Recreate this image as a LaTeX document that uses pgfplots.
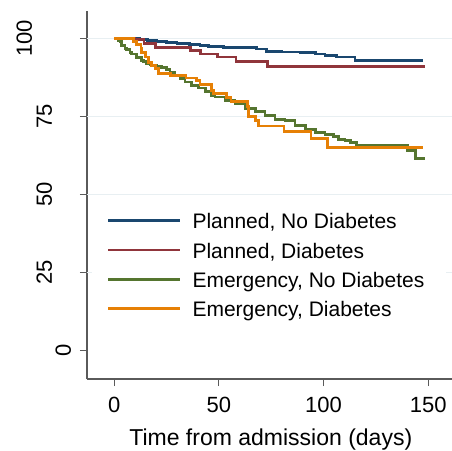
\documentclass[border=0pt]{standalone}
\usepackage{pgfplots}
\pgfplotsset{compat=1.18}
\usepackage{fontspec}
\setmainfont{Liberation Sans}
\definecolor{sNavy}{RGB}{26,71,111}
\definecolor{sMaroon}{RGB}{144,53,59}
\definecolor{sGreen}{RGB}{85,117,47}
\definecolor{sOrange}{RGB}{230,128,5}
\definecolor{axgray}{RGB}{90,90,90}
\definecolor{gridc}{RGB}{232,239,242}
\begin{document}
\begin{tikzpicture}
\begin{axis}[
  scale only axis, width=365pt, height=368pt,
  xmin=-13.05, xmax=161.4, ymin=-9.06, ymax=108.74,
  axis x line*=bottom, axis y line*=left,
  axis line style={axgray, line width=1.2pt},
  tick align=outside, major tick length=7pt,
  tick style={axgray, line width=1pt},
  xtick={0,50,100,150}, xticklabels={0,50,100,150},
  ytick={0,25,50,75,100},
  yticklabels={\raisebox{9pt}{0},\raisebox{28pt}{25},\raisebox{28pt}{50},\raisebox{28pt}{75},\raisebox{48pt}{100}},
  xticklabel style={anchor=base, inner sep=0pt, yshift=-26pt, font=\fontsize{22}{26}\selectfont},
  yticklabel style={rotate=90, anchor=south, inner sep=0pt, font=\fontsize{22}{26}\selectfont},
  extra y ticks={25,50,75,100}, extra y tick labels={,,,},
  extra y tick style={grid=major, major tick length=0pt},
  grid style={gridc, line width=1pt},
  xlabel={Time from admission (days)},
  xlabel style={font=\fontsize{23}{27}\selectfont, at={(axis description cs:0.5,0)}, anchor=base, yshift=-66pt, xshift=1.3pt, inner sep=0pt},
  legend style={at={(0.0137,0.4714)}, anchor=north west, draw=none, fill=white,
    inner xsep=14.5pt, inner ysep=3pt, font=\fontsize{21}{25}\selectfont, row sep=0pt,
    nodes={inner xsep=7pt, inner ysep=4.6pt, text height=15.5pt, text depth=4.5pt}},
  legend cell align=left,
  legend image code/.code={\draw[#1] (0pt,2.5pt) -- (72pt,2.5pt); \path (76pt,0pt);},
]
\addplot[sNavy, line width=2.8pt, const plot] coordinates {
(0,100) (9.1,100) (12,99.7) (16,99.3) (20,99.0) (25,98.6) (30,98.3) (36,98.0) (41,97.8) (45,97.5) (48,97.3) (52,97.0)
(68,96.6) (72.8,95.8) (80,95.6) (88.8,95.4) (96,95.0) (100.7,94.6) (104,94.4) (106.3,94.0) (115,93.0) (147.7,93.0)};
\addlegendentry{Planned, No Diabetes}
\addplot[sMaroon, line width=2.8pt, const plot] coordinates {
(0,100) (9.9,99.5) (14.2,98.4) (19.5,97.1) (36.3,96.1) (41.3,95.0) (49.3,94.0) (58.2,92.7) (73.3,91.1) (148.6,91.1)};
\addlegendentry{Planned, Diabetes}
\addplot[sGreen, line width=2.8pt, const plot] coordinates {
(0,100) (1.9,99.4) (2.8,99.0) (3.5,97.8) (5.1,96.8) (5.9,96.5) (7.5,95.4) (8.3,95.0) (10.7,93.8) (13.1,93.0) (13.9,92.5) (15.5,92.0)
(17.1,91.5) (17.9,91.3) (20.3,91.0) (22.7,90.7) (25,90.1) (26.6,89.0) (29,88.2) (31.4,87.1) (33.8,86.0) (37,85.0)
(40.2,84.1) (43.4,83.0) (46.6,81.8) (48.1,81.2) (53,80.2) (57.7,79.2) (62.5,77.6) (67.3,76.5) (72,75.4) (76.8,74.1)
(81.6,73.6) (86.4,72.2) (91.2,70.9) (96,69.8) (100.7,69.2) (104.7,68.5) (107.1,67.7) (110.3,67.2) (112.7,66.6)
(115.9,65.6) (140.3,64.2) (144.1,61.6) (148.5,61.6)};
\addlegendentry{Emergency, No Diabetes}
\addplot[sOrange, line width=2.8pt, const plot] coordinates {
(0,100) (9.1,98.9) (10.7,97.9) (12.8,96.9) (13.1,95.5) (15.0,94.0) (16.3,92.3) (17.9,91.4) (19.8,90.3) (21.0,88.8)
(26.8,88.2) (34.3,87.3) (39.4,86.5) (41.0,85.1) (46.6,83.4) (47.3,82.4) (53.7,81.1) (55.8,79.7) (63.6,78.1) (64.1,75.0)
(67.3,73.6) (68.8,71.9) (81.1,70.1) (94.0,67.8) (102.0,65.1) (147.7,65.1)};
\addlegendentry{Emergency, Diabetes}
\end{axis}
\pgfresetboundingbox
\path[use as bounding box] ([xshift=-87pt,yshift=-71pt]current axis.south west) rectangle ([yshift=11pt]current axis.north east);
\end{tikzpicture}
\end{document}
